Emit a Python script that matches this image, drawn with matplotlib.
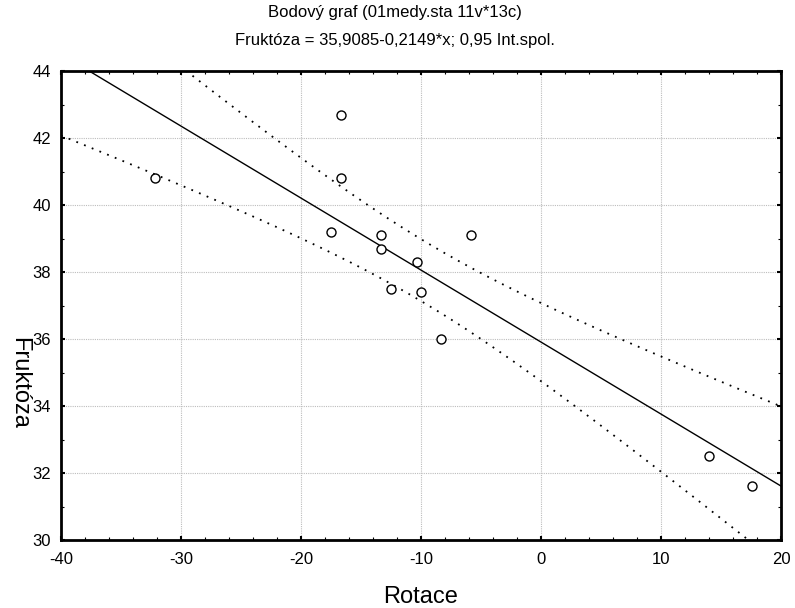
import numpy as np
import matplotlib
matplotlib.use("Agg")
import matplotlib.pyplot as plt
from matplotlib.ticker import MultipleLocator

plt.rcParams['font.family'] = ['Liberation Sans', 'DejaVu Sans']
plt.rcParams['axes.unicode_minus'] = False

# Data
rotace = [-32.2, -16.7, -16.7, -17.5, -13.3, -13.35, -10.3, -5.8, -12.5, -10.0, -8.3, 14.0, 17.6]
fruktoza = [40.8, 42.7, 40.8, 39.2, 39.1, 38.7, 38.3, 39.1, 37.5, 37.4, 36.0, 32.5, 31.6]

intercept = 35.9085
slope = -0.2149
t_crit = 2.201  # t(0.975, df=11)

title_lines = ["Bodový graf (01medy.sta 11v*13c)",
               "Fruktóza = 35,9085-0,2149*x; 0,95 Int.spol."]
xlabel = "Rotace"
ylabel = "Fruktóza"

x = np.array(rotace)
y = np.array(fruktoza)
n = len(x)
resid = y - (intercept + slope * x)
s = np.sqrt(np.sum(resid ** 2) / (n - 2))
xbar = x.mean()
sxx = np.sum((x - xbar) ** 2)
xs = np.linspace(-40, 20, 300)
yfit = intercept + slope * xs
half = t_crit * s * np.sqrt(1.0 / n + (xs - xbar) ** 2 / sxx)

fig = plt.figure(figsize=(7.95, 6.08), dpi=100)
ax = fig.add_axes([61 / 795, 68 / 608, 720 / 795, 469 / 608])

ax.plot(xs, yfit, color='black', lw=1.0, zorder=3)
ax.plot(xs, yfit + half, color='black', lw=1.3, linestyle=(0, (1, 3.6)), zorder=3)
ax.plot(xs, yfit - half, color='black', lw=1.3, linestyle=(0, (1, 3.6)), zorder=3)
ax.plot(x, y, linestyle='none', marker='o', markersize=6.5, markerfacecolor='white',
        markeredgecolor='black', markeredgewidth=1.0, zorder=4)

ax.set_xlim(-40, 20)
ax.set_ylim(30, 44)
ax.xaxis.set_major_locator(MultipleLocator(10))
ax.yaxis.set_major_locator(MultipleLocator(2))
ax.xaxis.set_minor_locator(MultipleLocator(2))
ax.yaxis.set_minor_locator(MultipleLocator(1))
ax.grid(True, which='major', color='#bdbdbd', linestyle=(0, (1, 1)), linewidth=0.8)
ax.set_axisbelow(True)
ax.tick_params(which='both', direction='in', top=True, right=True, labelsize=12)
ax.tick_params(axis='x', pad=8.5)
ax.tick_params(axis='y', pad=7)
ax.tick_params(which='major', length=3, width=1.5)
ax.tick_params(which='minor', length=2, width=0.8)
for sp in ax.spines.values():
    sp.set_linewidth(2.0)

fig.text(395 / 795, 1 - 13 / 608, title_lines[0], ha='center', va='center', fontsize=12)
fig.text(395 / 795, 1 - 40 / 608, title_lines[1], ha='center', va='center', fontsize=12)
fig.text(421 / 795, 1 - 603 / 608, xlabel, ha='center', va='baseline', fontsize=17)
fig.text(19 / 795, 1 - 383 / 608, ylabel, ha='center', va='center', fontsize=17, rotation=270)

fig.savefig('out.png', dpi=100)
